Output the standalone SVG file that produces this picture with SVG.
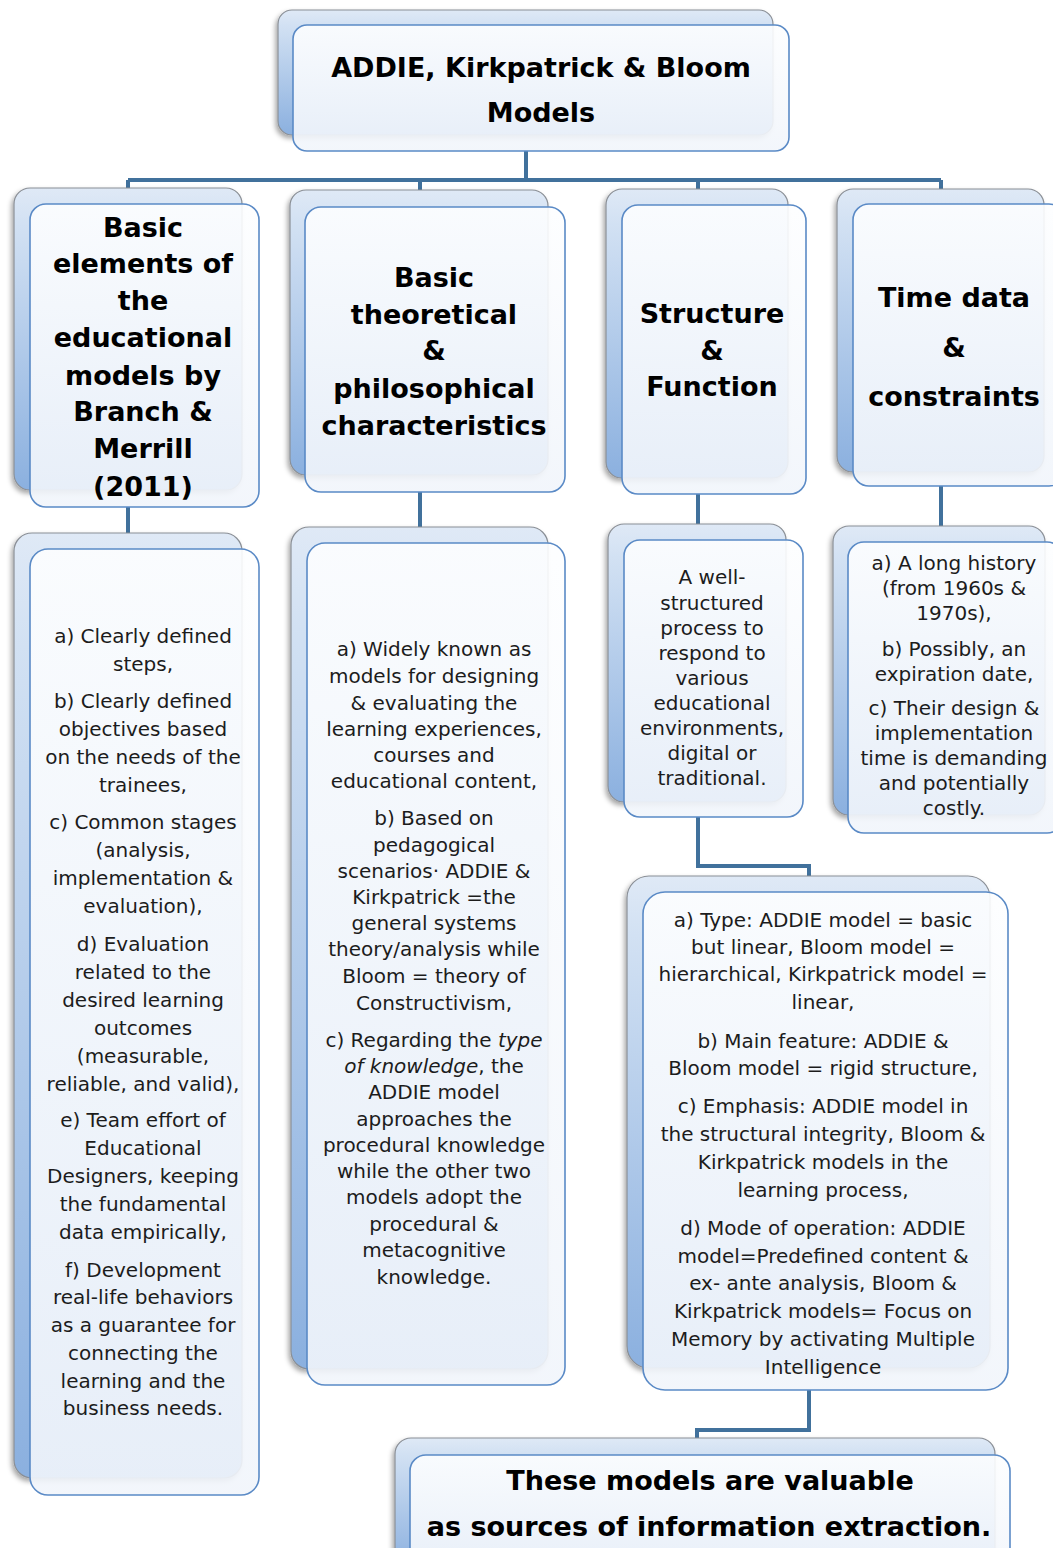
<svg xmlns="http://www.w3.org/2000/svg" width="1053" height="1548" viewBox="0 0 1053 1548">
<defs>
<linearGradient id="gb" x1="0" y1="0" x2="0" y2="1">
<stop offset="0" stop-color="#dfe9f6"/>
<stop offset="0.12" stop-color="#d2e1f3"/>
<stop offset="1" stop-color="#8bb0df"/>
</linearGradient>
<linearGradient id="gf" x1="0" y1="0" x2="0" y2="1">
<stop offset="0" stop-color="#fdfeff"/>
<stop offset="1" stop-color="#f1f5fb"/>
</linearGradient>
<filter id="sh" x="-10%" y="-10%" width="120%" height="120%">
<feDropShadow dx="-2" dy="3" stdDeviation="2.5" flood-color="#000" flood-opacity="0.35"/>
</filter>
<style>
.back{fill:url(#gb);stroke:#8a8f96;stroke-width:1.2;filter:url(#sh)}
.front{fill:url(#gf);fill-opacity:0.9;stroke:#5a8ac6;stroke-width:1.6}
.h{font-family:"DejaVu Sans",Verdana,sans-serif;font-weight:bold;font-size:27px;text-anchor:middle;fill:#000}
.t{font-family:"DejaVu Sans",Verdana,sans-serif;font-size:20px;text-anchor:middle;fill:#1c1c1c}
.c{fill:none;stroke:#41719c;stroke-width:4}
</style>
</defs>
<rect width="1053" height="1548" fill="#fff"/>

<g id="connectors">
<path class="c" d="M526 151V180M128 180H941M128 180V205M420 180V207M698 180V205M941 180V205"/>
<path class="c" d="M128 507V549M420 492V545M698 494V541M941 486V542"/>
<path class="c" d="M698 817V866H809V893"/>
<path class="c" d="M809 1390V1430H697V1455"/>
</g>

<g id="node-top">
<rect class="back" x="278" y="10" width="495" height="125" rx="14"/>
<rect class="front" x="293" y="25" width="496" height="126" rx="14"/>
<text class="h" font-size="28"><tspan x="541" y="77">ADDIE, Kirkpatrick &amp; Bloom</tspan><tspan x="541" y="122">Models</tspan></text>
</g>

<g id="node-basic-elements">
<rect class="back" x="14" y="188" width="228" height="302" rx="16"/>
<rect class="front" x="30" y="204" width="229" height="303" rx="16"/>
<text class="h"><tspan x="143" y="236.5">Basic</tspan><tspan x="143" y="272.5">elements of</tspan><tspan x="143" y="309.5">the</tspan><tspan x="143" y="346.5">educational</tspan><tspan x="143" y="384.5">models by</tspan><tspan x="143" y="420.5">Branch &amp;</tspan><tspan x="143" y="457.5">Merrill</tspan><tspan x="143" y="495.5">(2011)</tspan></text>
</g>

<g id="node-theoretical">
<rect class="back" x="290" y="190" width="258" height="285" rx="16"/>
<rect class="front" x="305" y="207" width="260" height="285" rx="16"/>
<text class="h"><tspan x="434" y="286.5">Basic</tspan><tspan x="434" y="323.5">theoretical</tspan><tspan x="434" y="359.5">&amp;</tspan><tspan x="434" y="397.5">philosophical</tspan><tspan x="434" y="434.5">characteristics</tspan></text>
</g>

<g id="node-structure">
<rect class="back" x="606" y="189" width="182" height="289" rx="16"/>
<rect class="front" x="622" y="205" width="184" height="289" rx="16"/>
<text class="h"><tspan x="712" y="322.5">Structure</tspan><tspan x="712" y="359.5">&amp;</tspan><tspan x="712" y="395.5">Function</tspan></text>
</g>

<g id="node-time">
<rect class="back" x="837" y="189" width="207" height="283" rx="16"/>
<rect class="front" x="853" y="204" width="212" height="282" rx="16"/>
<text class="h"><tspan x="954" y="306.5">Time data</tspan><tspan x="954" y="356.5">&amp;</tspan><tspan x="954" y="405.5">constraints</tspan></text>
</g>

<g id="node-elements-list">
<rect class="back" x="14" y="533" width="228" height="945" rx="18"/>
<rect class="front" x="30" y="549" width="229" height="946" rx="18"/>
<text class="t" font-size="20.4"><tspan x="143" y="643">a) Clearly defined</tspan><tspan x="143" y="671">steps,</tspan><tspan x="143" y="708">b) Clearly defined</tspan><tspan x="143" y="736">objectives based</tspan><tspan x="143" y="764">on the needs of the</tspan><tspan x="143" y="792">trainees,</tspan><tspan x="143" y="829">c) Common stages</tspan><tspan x="143" y="857">(analysis,</tspan><tspan x="143" y="885">implementation &amp;</tspan><tspan x="143" y="913">evaluation),</tspan><tspan x="143" y="951">d) Evaluation</tspan><tspan x="143" y="979">related to the</tspan><tspan x="143" y="1007">desired learning</tspan><tspan x="143" y="1035">outcomes</tspan><tspan x="143" y="1063">(measurable,</tspan><tspan x="143" y="1091">reliable, and valid),</tspan><tspan x="143" y="1127">e) Team effort of</tspan><tspan x="143" y="1155">Educational</tspan><tspan x="143" y="1183">Designers, keeping</tspan><tspan x="143" y="1211">the fundamental</tspan><tspan x="143" y="1239">data empirically,</tspan><tspan x="143" y="1277">f) Development</tspan><tspan x="143" y="1304">real-life behaviors</tspan><tspan x="143" y="1332">as a guarantee for</tspan><tspan x="143" y="1360">connecting the</tspan><tspan x="143" y="1388">learning and the</tspan><tspan x="143" y="1415">business needs.</tspan></text>
</g>

<g id="node-theoretical-list">
<rect class="back" x="291" y="527" width="257" height="842" rx="18"/>
<rect class="front" x="307" y="543" width="258" height="842" rx="18"/>
<text class="t"><tspan x="434" y="656">a) Widely known as</tspan><tspan x="434" y="683">models for designing</tspan><tspan x="434" y="710">&amp; evaluating the</tspan><tspan x="434" y="736">learning experiences,</tspan><tspan x="434" y="762">courses and</tspan><tspan x="434" y="788">educational content,</tspan><tspan x="434" y="825">b) Based on</tspan><tspan x="434" y="852">pedagogical</tspan><tspan x="434" y="878">scenarios· ADDIE &amp;</tspan><tspan x="434" y="904">Kirkpatrick =the</tspan><tspan x="434" y="930">general systems</tspan><tspan x="434" y="956">theory/analysis while</tspan><tspan x="434" y="983">Bloom = theory of</tspan><tspan x="434" y="1010">Constructivism,</tspan><tspan x="434" y="1047">c) Regarding the <tspan font-style="italic">type</tspan></tspan><tspan x="434" y="1073"><tspan font-style="italic">of knowledge</tspan>, the</tspan><tspan x="434" y="1099">ADDIE model</tspan><tspan x="434" y="1126">approaches the</tspan><tspan x="434" y="1152">procedural knowledge</tspan><tspan x="434" y="1178">while the other two</tspan><tspan x="434" y="1204">models adopt the</tspan><tspan x="434" y="1231">procedural &amp;</tspan><tspan x="434" y="1257">metacognitive</tspan><tspan x="434" y="1284">knowledge.</tspan></text>
</g>

<g id="node-structure-desc">
<rect class="back" x="608" y="524" width="178" height="278" rx="16"/>
<rect class="front" x="624" y="540" width="179" height="277" rx="16"/>
<text class="t" font-size="18.6"><tspan x="712" y="583.5">A well-</tspan><tspan x="712" y="609.5">structured</tspan><tspan x="712" y="634.5">process to</tspan><tspan x="712" y="659.5">respond to</tspan><tspan x="712" y="684.5">various</tspan><tspan x="712" y="709.5">educational</tspan><tspan x="712" y="734.5">environments,</tspan><tspan x="712" y="759.5">digital or</tspan><tspan x="712" y="784.5">traditional.</tspan></text>
</g>

<g id="node-time-list">
<rect class="back" x="833" y="526" width="212" height="289" rx="16"/>
<rect class="front" x="848" y="542" width="215" height="291" rx="16"/>
<text class="t"><tspan x="954" y="570">a) A long history</tspan><tspan x="954" y="595">(from 1960s &amp;</tspan><tspan x="954" y="620">1970s),</tspan><tspan x="954" y="656">b) Possibly, an</tspan><tspan x="954" y="681">expiration date,</tspan><tspan x="954" y="715">c) Their design &amp;</tspan><tspan x="954" y="740">implementation</tspan><tspan x="954" y="765">time is demanding</tspan><tspan x="954" y="790">and potentially</tspan><tspan x="954" y="815">costly.</tspan></text>
</g>

<g id="node-structure-list">
<rect class="back" x="627" y="876" width="363" height="492" rx="22"/>
<rect class="front" x="643" y="892" width="365" height="498" rx="22"/>
<text class="t" font-size="20.5"><tspan x="823" y="927">a) Type: ADDIE model = basic</tspan><tspan x="823" y="954">but linear, Bloom model =</tspan><tspan x="823" y="981">hierarchical, Kirkpatrick model =</tspan><tspan x="823" y="1009">linear,</tspan><tspan x="823" y="1048">b) Main feature: ADDIE &amp;</tspan><tspan x="823" y="1075">Bloom model = rigid structure,</tspan><tspan x="823" y="1113">c) Emphasis: ADDIE model in</tspan><tspan x="823" y="1141">the structural integrity, Bloom &amp;</tspan><tspan x="823" y="1169">Kirkpatrick models in the</tspan><tspan x="823" y="1197">learning process,</tspan><tspan x="823" y="1235">d) Mode of operation: ADDIE</tspan><tspan x="823" y="1263">model=Predefined content &amp;</tspan><tspan x="823" y="1290">ex- ante analysis, Bloom &amp;</tspan><tspan x="823" y="1318">Kirkpatrick models= Focus on</tspan><tspan x="823" y="1346">Memory by activating Multiple</tspan><tspan x="823" y="1374">Intelligence</tspan></text>
</g>

<g id="node-conclusion">
<rect class="back" x="395" y="1438" width="600" height="130" rx="16"/>
<rect class="front" x="410" y="1455" width="600" height="130" rx="16"/>
<text class="h"><tspan x="710" y="1489.5">These models are valuable</tspan><tspan x="709" y="1535.5">as sources of information extraction.</tspan></text>
</g>
</svg>
